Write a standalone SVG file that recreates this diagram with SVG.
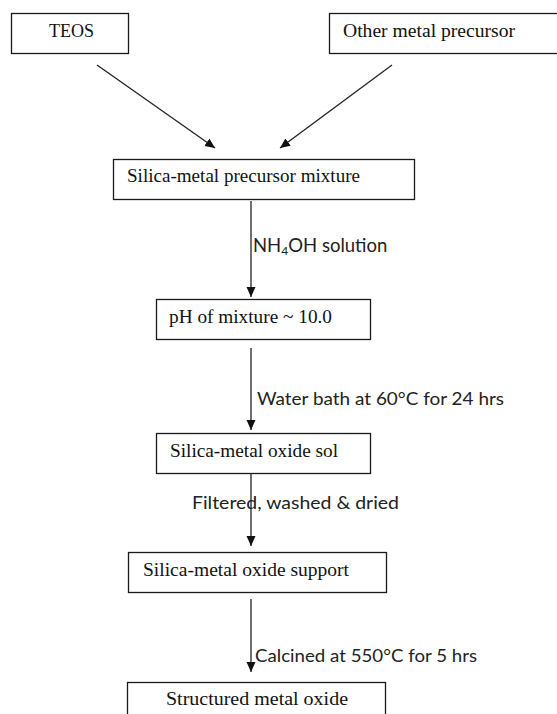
<svg xmlns="http://www.w3.org/2000/svg" width="557" height="714" viewBox="0 0 557 714">
<style>
.box{fill:#fff;stroke:#1a1a1a;stroke-width:1.3}
.nt{font-family:"Liberation Serif","Times New Roman",serif;font-size:18px;fill:#111}
.lb{font-family:Lato,"Liberation Sans",sans-serif;font-size:17px;fill:#222}
.ar{stroke:#222;stroke-width:1.3;fill:none;marker-end:url(#ah)}
</style>
<defs>
<marker id="ah" viewBox="0 0 10 10" refX="10" refY="5" markerWidth="10" markerHeight="10" markerUnits="userSpaceOnUse" orient="auto">
<path d="M0,0.5 L10,5 L0,9.5 Z" fill="#111"/>
</marker>
</defs>
<rect width="557" height="714" fill="#fff"/>
<g id="teos"><rect class="box" x="11.5" y="13.5" width="117" height="40"/><text class="nt" x="49" y="37" textLength="45" lengthAdjust="spacingAndGlyphs">TEOS</text></g>
<g id="other"><rect class="box" x="329.5" y="13.5" width="240" height="40"/><text class="nt" x="343" y="37" textLength="172" lengthAdjust="spacingAndGlyphs">Other metal precursor</text></g>
<g id="mixture"><rect class="box" x="113.5" y="159.5" width="301" height="40"/><text class="nt" x="127" y="182" textLength="233" lengthAdjust="spacingAndGlyphs">Silica-metal precursor mixture</text></g>
<g id="ph"><rect class="box" x="156.5" y="299.5" width="214" height="40"/><text class="nt" x="169" y="323" textLength="163" lengthAdjust="spacingAndGlyphs">pH of mixture ~ 10.0</text></g>
<g id="sol"><rect class="box" x="156.5" y="433.5" width="214" height="40"/><text class="nt" x="170" y="457" textLength="168" lengthAdjust="spacingAndGlyphs">Silica-metal oxide sol</text></g>
<g id="support"><rect class="box" x="128.5" y="552.5" width="258" height="40"/><text class="nt" x="143" y="576" textLength="206" lengthAdjust="spacingAndGlyphs">Silica-metal oxide support</text></g>
<g id="structured"><rect class="box" x="127.5" y="682.5" width="258" height="40"/><text class="nt" x="166" y="705" textLength="182" lengthAdjust="spacingAndGlyphs">Structured metal oxide</text></g>
<g id="connectors">
<line class="ar" x1="97" y1="65" x2="215" y2="148"/>
<line class="ar" x1="392" y1="65" x2="280" y2="148"/>
<line class="ar" x1="251" y1="201" x2="251" y2="297"/>
<line class="ar" x1="251" y1="348" x2="251" y2="430"/>
<line class="ar" x1="251" y1="474" x2="251" y2="546"/>
<line class="ar" x1="251" y1="599" x2="251" y2="672"/>
<text class="lb" x="253" y="252" style="font-size:18.5px">NH<tspan style="font-size:12px" dy="3">4</tspan><tspan dy="-3">OH solution</tspan></text>
<text class="lb" x="257" y="405" textLength="247" lengthAdjust="spacingAndGlyphs">Water bath at 60°C for 24 hrs</text>
<text class="lb" x="192" y="509" textLength="207" lengthAdjust="spacingAndGlyphs">Filtered, washed &amp; dried</text>
<text class="lb" x="255" y="662" textLength="222" lengthAdjust="spacingAndGlyphs">Calcined at 550°C for 5 hrs</text>
</g>
</svg>
